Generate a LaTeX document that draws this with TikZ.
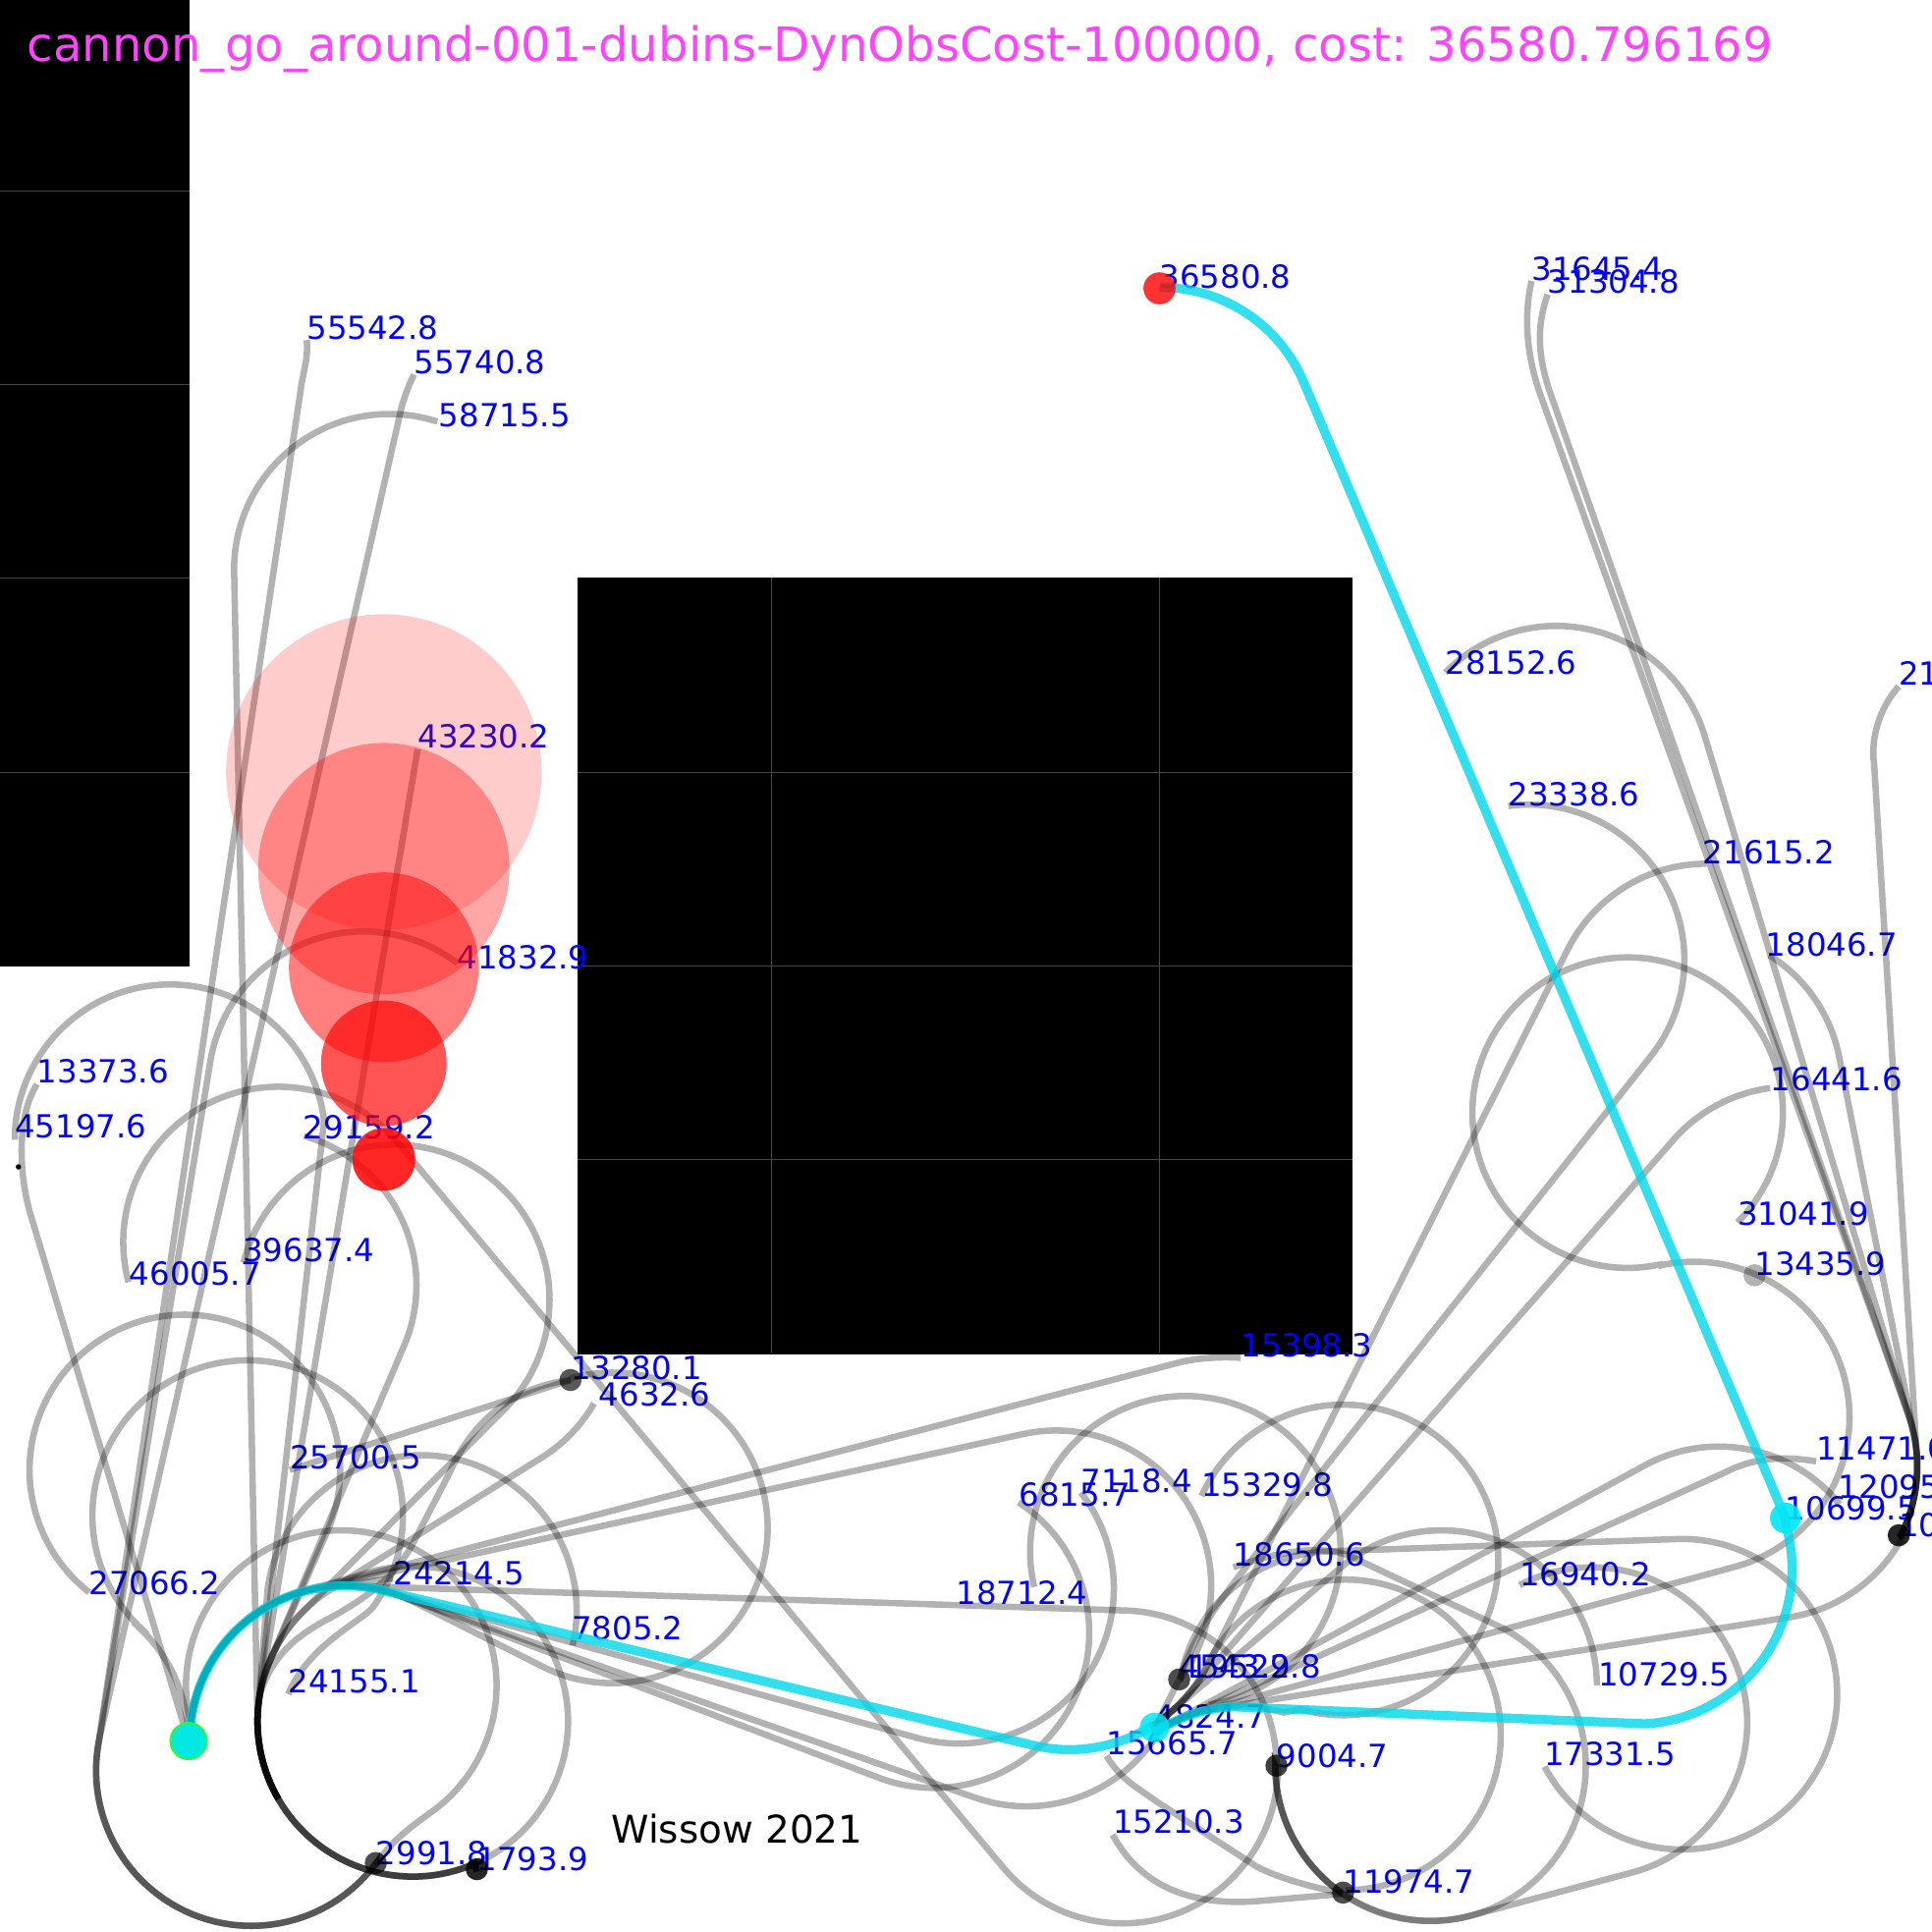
\documentclass[tikz,border=0pt]{standalone}
\usepackage{fontspec}
\setmainfont{DejaVu Sans}
\usetikzlibrary{calc}
\definecolor{bestc}{RGB}{0,215,232}
\definecolor{nodec}{RGB}{0,230,245}
\definecolor{rootc}{RGB}{40,255,40}
\definecolor{cellc}{RGB}{70,70,70}
\definecolor{titlec}{RGB}{255,68,255}
\newcommand{\Ar}[4]{-- ([shift={(#3:126)}]#1,#2) arc[start angle=#3,end angle=#4,radius=126]}
\newcommand{\RR}[1]{\Ar{280}{1413}{180}{#1}}
\newcommand{\DD}[1]{\Ar{335}{1397}{66.6}{#1}}
\newcommand{\DE}[1]{\Ar{335}{1397}{150}{#1}}
\newcommand{\PA}[1]{\Ar{868}{1294}{57.4}{#1}}
\newcommand{\PB}[1]{\Ar{1007}{1511}{237.4}{#1}}
\newcommand{\QQ}[1]{\Ar{1430}{1190}{26.8}{#1}}
\newcommand{\lab}[4]{\coordinate (#1) at (#2,#3); \node[lbl] (#1-t) at (#1) {#4};}
\tikzset{
  lbl/.style={anchor=base west,inner sep=0pt,yshift=.8pt,text=blue,font=\fontsize{25.8}{28}\selectfont},
  edg/.style={draw=black,draw opacity=.3,line width=5.2pt},
  best/.style={draw=bestc,draw opacity=.8,line width=7.4pt},
  cell/.style={draw=cellc,line width=.8pt},
}
\begin{document}
\begin{tikzpicture}[x=1pt,y=-1pt]
\useasboundingbox (0,0) rectangle (1568,1568);
\clip (0,0) rectangle (1568,1568);
% obstacles
\fill[black] (0,0) rectangle (154,784);
\fill[black] (469,469) rectangle (1098,1099);
\foreach \yy in {155,312,469,627} \draw[cell] (0,\yy) -- (154,\yy);
\foreach \yy in {627,784,941} \draw[cell] (469,\yy) -- (1098,\yy);
\foreach \xx in {626,941} \draw[cell] (\xx,469) -- (\xx,1098);
% labels
\coordinate (root) at (153,1413);
\coordinate (dmid) at ([shift={(150:126)}]335,1397);
\lab{a36580}{941}{235}{36580.8}
\lab{a31645}{1243}{228}{31645.4}
\lab{a31304}{1256}{239}{31304.8}
\lab{a55542}{249}{276}{55542.8}
\lab{a55740}{336}{304}{55740.8}
\lab{a58715}{356}{347}{58715.5}
\lab{a28152}{1173}{548}{28152.6}
\lab{a23338}{1224}{655}{23338.6}
\lab{a21615}{1382}{702}{21615.2}
\lab{a18046}{1433}{777}{18046.7}
\lab{a16441}{1437}{886}{16441.6}
\lab{a31041}{1410}{995}{31041.9}
\lab{a13435}{1424}{1036}{13435.9}
\lab{a21}{1541}{557}{21}
\lab{a43230}{339}{608}{43230.2}
\lab{a41832}{371}{787}{41832.9}
\lab{a13373}{30}{880}{13373.6}
\lab{a45197}{12}{924}{45197.6}
\lab{a29159}{246}{925}{29159.2}
\lab{a46005}{105}{1044}{46005.7}
\lab{a39637}{197}{1025}{39637.4}
\lab{a15398}{1007}{1102}{15398.3}
\lab{a13280}{463}{1120}{13280.1}
\lab{a4632}{486}{1142}{4632.6}
\lab{a25700}{235}{1193}{25700.5}
\lab{a11471}{1474}{1186}{11471.0}
\lab{a12095}{1492}{1217}{12095}
\lab{a10699}{1449}{1234}{10699.5}
\lab{a10}{1541}{1248}{10}
\lab{a6815}{827}{1223}{6815.7}
\lab{a7118}{877}{1212}{7118.4}
\lab{a15329}{975}{1215}{15329.8}
\lab{a18650}{1001}{1272}{18650.6}
\lab{a16940}{1233}{1288}{16940.2}
\lab{a18712}{776}{1303}{18712.4}
\lab{a27066}{72}{1295}{27066.2}
\lab{a24214}{319}{1287}{24214.5}
\lab{a7805}{464}{1332}{7805.2}
\lab{a24155}{234}{1375}{24155.1}
\lab{a10729}{1297}{1369}{10729.5}
\lab{a4543}{957}{1363}{4543.2}
\lab{a19529}{965}{1363}{19529.8}
\lab{a4824}{937}{1403}{4824.7}
\lab{a15665}{898}{1425}{15665.7}
\lab{a9004}{1036}{1435}{9004.7}
\lab{a17331}{1253}{1434}{17331.5}
\lab{a15210}{903}{1489}{15210.3}
\lab{a11974}{1090}{1537}{11974.7}
\lab{a2991}{305}{1514}{2991.8}
\lab{a1793}{387}{1519}{1793.9}
\node[anchor=base west,inner sep=0pt,font=\fontsize{31}{33}\selectfont] (wissow) at (496,1496) {Wissow 2021};
\node[anchor=base west,inner sep=0pt,text=titlec,font=\fontsize{38.4}{42}\selectfont] (title) at (22,50) {cannon\_go\_around-001-dubins-DynObsCost-100000, cost: 36580.796169};
% grey tree: from the root
\draw[edg] (root) \RR{296} \Ar{497}{1240}{116}{-106};
\draw[edg] (root) \RR{285.5} \Ar{778}{1289}{105.5}{-38};
\draw[edg] (root) \RR{290.6} \Ar{758}{1325}{110.6}{-57};
\draw[edg] (root) \RR{289.3} \Ar{833}{1340}{109.3}{31};
\draw[edg] (root) \RR{257.7} \Ar{857}{1287}{257.7}{397};
\draw[edg] (root) \RR{255.3} -- (960,1105) .. controls (975,1102) and (990,1101) .. (a15398);
\draw[edg] (root) \RR{271.8} \Ar{910}{1433}{271.8}{360};
\draw[edg] (root) \RR{262} -- (319,1281);
\draw[edg] (root) \RR{253.8} \Ar{335}{1397}{253.8}{426.6};
\draw[edg] (root) \Ar{277}{1368}{160}{415} .. controls (330,1485) and (315,1497) .. (a2991);
\draw[edg] (root) \Ar{27}{1413}{0}{-46.6} \Ar{201}{1230}{133.4}{396} .. controls (295,1315) and (250,1335) .. (a24155);
\draw[edg] (root) -- (24,983) .. controls (15,950) and (14,905) .. (a13373);
% from 1793.9
\draw[edg] (dmid) \DE{178.6} \Ar{316}{462}{178.6}{288};
\draw[edg] (a1793) \DD{189.4} -- (a43230);
\draw[edg] (dmid) \DE{186.5} \Ar{138}{925}{353}{180};
\draw[edg] (a1793) \DD{200} \Ar{150}{1193}{25}{-232};
\draw[edg] (a1793) \DD{203} \Ar{212}{1043}{21}{-74};
\draw[edg] (dmid) \DE{188} \Ar{342}{1307}{188}{373};
\draw[edg] (dmid) \DE{190} .. controls (222,1340) and (245,1325) .. (270,1312) .. controls (300,1295) and (320,1280) .. (335,1253) -- (365,1195) .. controls (385,1150) and (420,1125) .. (a13280);
\draw[edg] (a1793) \DD{225} \Ar{320}{1055}{45}{-166};
\draw[edg] (dmid) \DE{238} \Ar{373}{1076}{58}{30};
\draw[edg] (a13280) -- (a25700);
% from 2991.8
\draw[edg] (a2991) \Ar{204}{1437}{36.6}{189.3} \Ar{295}{882}{189.3}{307.3};
\draw[edg] (a2991) \Ar{204}{1437}{36.6}{188.5} -- (245,310) .. controls (248,295) and (250,288) .. (a55542);
\draw[edg] (a2991) \Ar{204}{1437}{36.6}{193} -- (326,330) .. controls (329,320) and (332,312) .. (a55740);
% from 9004.7
\draw[edg] (a9004) \Ar{911}{1435}{0}{140} \Ar{226}{1008}{320}{165};
\draw[edg] (a9004) \Ar{1161}{1433}{180}{125};
\draw[edg] (a9004) \Ar{1161}{1433}{180}{74.7} \Ar{1292}{1398}{74.7}{-117.8};
\draw[edg] (a9004) \Ar{1161}{1433}{180}{-63} -- (1098,1264) .. controls (1070,1251) and (1030,1262) .. (a18650);
% from 11974.7
\draw[edg] (a11974) .. controls (1060,1530) and (1040,1525) .. (1020,1515) -- (940,1463) .. controls (925,1452) and (910,1445) .. (a15665);
\draw[edg] (a11974) -- (1020,1543) .. controls (965,1547) and (925,1530) .. (a15210);
% fan from the cyan node
\draw[edg] (a4824) \PA{26} \Ar{1385}{827}{207}{270};
\draw[edg] (a4824) \PA{40.5} \Ar{1453}{1008}{221}{262.5};
\draw[edg] (a4543) .. controls (970,1325) and (990,1298) .. (1027,1252) \Ar{1241}{779}{38}{-97.7};
\draw[edg] (a4824) -- (a4543);
\draw[edg] (a4824) \PB{255.7} \Ar{1375}{1150}{75}{-102.3} \Ar{1321}{903}{77.7}{405};
\draw[edg] (a4824) \PB{262} \Ar{1433}{1188}{82}{28};
\draw[edg] (a4824) \PB{244.7} -- (1400,1195) .. controls (1425,1182) and (1450,1182) .. (a11471);
\draw[edg] (a4824) \PB{242.5} \Ar{1395}{1300}{242.5}{321};
\draw[edg] (a4824) \PA{50} \Ar{1170}{1368}{230}{360};
\draw[edg] (a4824) \PA{31} \Ar{1092}{1408}{211}{450};
\draw[edg] (a4824) \PB{286} \Ar{1090}{1266}{106}{-155.7};
\draw[edg] (a4824) \PB{260} \Ar{962}{1259}{80}{-193.3};
\draw[edg] (a4543) \Ar{1082}{1385}{190.4}{268} \Ar{1365}{1375}{268}{512.2};
% bundle from the node near the right edge
\draw[edg] (a10) \QQ{-15.8} \Ar{1263}{634}{-16.8}{-135.6};
\draw[edg] (a10) \QQ{-10.4} \Ar{1369}{882}{-10.4}{-58};
\draw[edg] (a10) \QQ{-3.6} -- (1521,620) .. controls (1518,600) and (1525,575) .. (a21);
\draw[edg] (a10) \QQ{-19.8} -- (1250,320) .. controls (1238,285) and (1237,255) .. (a31645);
\draw[edg] (a10) \QQ{-19.2} -- (1261,327) .. controls (1247,290) and (1247,265) .. (a31304);
% node dots
\fill[black,opacity=.65] (a13280) circle[radius=9];
\fill[black,opacity=.7] (305,1512) circle[radius=9];
\fill[black,opacity=.85] (387,1517) circle[radius=9];
\fill[black,opacity=.7] (a4543) circle[radius=9];
\fill[black,opacity=.75] (1036,1433) circle[radius=9];
\fill[black,opacity=.7] (1090,1536) circle[radius=9];
\fill[black,opacity=.85] (1541,1246) circle[radius=9];
\fill[black,opacity=.3] (1424,1035) circle[radius=9];
\fill[black] (15,947) circle[radius=2.2];
% goal regions
\fill[red,opacity=.2] (311.5,626.5) circle[radius=128];
\fill[red,opacity=.35] (311.5,705) circle[radius=102];
\fill[red,opacity=.5] (311.5,785) circle[radius=77];
\fill[red,opacity=.67] (311.5,863) circle[radius=51];
\fill[red,opacity=.85] (311.5,941) circle[radius=25.5];
% best path
\draw[best] (root) \RR{283.4} \Ar{868}{1294}{103.4}{57.4};
\draw[best] (a4824) \PB{267} -- (1335,1399) arc[start angle=87,end angle=-16,radius=126] -- (1449,1232);
\draw[best] (1449,1232) -- (1058,310) arc[start angle=-23,end angle=-90,radius=126] -- (941,233);
\fill[red,opacity=.8] (941,234) circle[radius=13];
\fill[nodec,opacity=.85] (937,1402) circle[radius=12];
\fill[nodec,opacity=.9] (1449,1232) circle[radius=12.5];
\fill[rootc] (root) circle[radius=15.5];
\fill[nodec,opacity=.9] (root) circle[radius=14];
\end{tikzpicture}
\end{document}
